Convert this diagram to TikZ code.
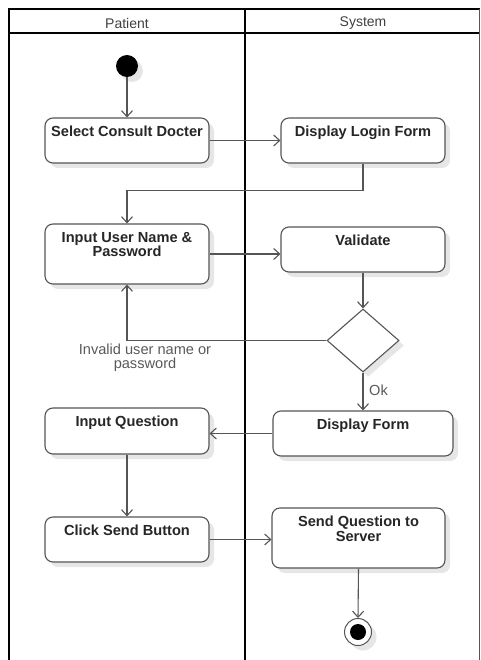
\documentclass[tikz,border=0pt]{standalone}
\usepackage{fontspec}
\setmainfont{Liberation Sans}
\usetikzlibrary{arrows.meta,shapes.geometric,shadows,calc}
\definecolor{edge}{HTML}{555555}
\definecolor{shade}{HTML}{E6E6E6}
\tikzset{
  x=1pt, y=-1pt,
  lane/.style={line width=2pt, black},
  sha/.style={drop shadow={shadow xshift=5pt, shadow yshift=-5pt, fill=shade, opacity=1}},
  act/.style={draw=edge, line width=1.1pt, rounded corners=8pt, fill=white, sha,
    minimum width=164pt, minimum height=45pt, inner sep=0pt},
  acttext/.style={anchor=north, inner sep=0pt, yshift=-8.5pt, align=center,
    font=\bfseries\fontsize{14.6}{14.6}\selectfont, text=black!85},
  flow/.style={draw=edge, line width=1.1pt, -{Straight Barb[length=6pt,width=11pt,line width=1.1pt]}},
  hdr/.style={font=\fontsize{14}{15}\selectfont, text=black!75},
  note/.style={font=\fontsize{14.6}{14}\selectfont, text=black!65, align=center, inner sep=0pt},
}
\begin{document}
\begin{tikzpicture}
\useasboundingbox (0,0) rectangle (480,660);

% swimlane frame
\draw[lane] (9,660) -- (9,9) -- (480,9);
\draw[lane] (9,33) -- (480,33);
\draw[lane] (245,9) -- (245,660);
\draw[edge, line width=1pt] (479,9) -- (479,660);
\node[hdr] (hp) at (127,23) {Patient};
\node[hdr] (hs) at (363,23) {System};

% start and end states
\node[circle, fill=black, minimum size=22pt, inner sep=0pt, sha] (start) at (127,66) {};
\node[circle, draw=edge, line width=1pt, fill=white, minimum size=27pt, inner sep=0pt, sha] (stop) at (358,632) {};
\node[circle, fill=black, minimum size=16pt, inner sep=0pt] (stopin) at (stop.center) {};

% activities
\node[act] (sel) at (127,140.5) {};
\node[acttext] (selt) at (sel.north) {Select Consult Docter};
\node[act] (login) at (363,140.5) {};
\node[acttext] (logint) at (login.north) {Display Login Form};
\node[act, minimum height=60pt] (inp) at (127,254) {};
\node[acttext] (inpt) at (inp.north) {Input User Name \&\\Password};
\node[act] (val) at (363,249.5) {};
\node[acttext] (valt) at (val.north) {Validate};
\node[diamond, draw=edge, line width=1.1pt, fill=white, sha, minimum width=72pt, minimum height=63pt, inner sep=0pt, aspect=1.14] (dec) at (363,340.5) {};
\node[act, minimum width=180pt] (disp) at (363,433.5) {};
\node[acttext] (dispt) at (disp.north) {Display Form};
\node[act, minimum height=46pt] (iq) at (127,431) {};
\node[acttext] (iqt) at (iq.north) {Input Question};
\node[act] (click) at (127,539.5) {};
\node[acttext] (clickt) at (click.north) {Click Send Button};
\node[act, minimum width=173pt, minimum height=60pt] (sq) at (358.5,538) {};
\node[acttext] (sqt) at (sq.north) {Send Question to\\Server};

% flows
\draw[flow] (start) -- (sel.north);
\draw[flow] (sel.east) -- (sel.east -| login.west);
\draw[flow] (login.south) -- ++(0,27) -| (inp.north);
\draw[flow] (inp.east) -- (inp.east -| val.west);
\draw[flow] (val.south) -- (dec.north);
\draw[flow] (dec.west) -| (inp.south);
\node[note] (invalid) at (145,357.5) {Invalid user name or\\password};
\draw[flow] (dec.south) -- (disp.north);
\node[note, anchor=west] (ok) at (369,390.5) {Ok};
\draw[flow] (disp.west) -- (disp.west -| iq.east);
\draw[flow] (iq.south) -- (click.north);
\draw[flow] (click.east) -- (click.east -| sq.west);
\draw[flow] (sq.south) -- (stop.north);
\end{tikzpicture}
\end{document}
